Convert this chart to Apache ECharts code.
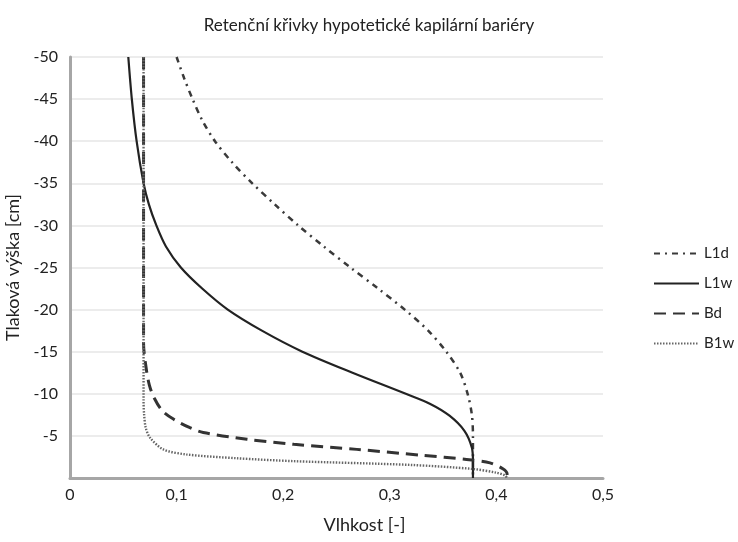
<!DOCTYPE html>
<html>
<head>
<meta charset="utf-8">
<title>Retenční křivky</title>
<script src="https://cdn.jsdelivr.net/npm/echarts@6/dist/echarts.min.js"></script>
<style>
  html, body { margin: 0; padding: 0; background: #fff; }
  #chart { width: 738px; height: 542px; }
</style>
</head>
<body>
<div id="chart"></div>
<script>
  // tlaková výška [cm] a vlhkost [-] pro jednotlivé křivky
  var l1dHead  = [-50, -47.5, -45, -42.5, -40, -37.5, -35, -32.5, -30, -27.5, -25, -22.5, -20, -17.5, -15, -12.5, -10, -7.5, -5, 0];
  var l1dTheta = [0.100, 0.107, 0.115, 0.124, 0.136, 0.152, 0.171, 0.192, 0.214, 0.238, 0.263, 0.289, 0.314, 0.336, 0.353, 0.366, 0.373, 0.377, 0.378, 0.378];

  var l1wHead  = [-50, -45, -40, -35, -32.5, -30, -27.5, -25, -22.5, -20, -17.5, -15, -12.5, -10, -8.8, -7.4, -5.6, -3.6, -2, 0];
  var l1wTheta = [0.0547, 0.058, 0.0625, 0.069, 0.074, 0.081, 0.09, 0.104, 0.124, 0.148, 0.18, 0.218, 0.265, 0.315, 0.338, 0.356, 0.37, 0.377, 0.378, 0.378];

  var bdHead  = [-50, -16, -13, -11, -9.5, -8, -7, -6, -5.4, -4.6, -4.0, -3.4, -2.7, -2.2, -1.8, -1.1, -0.5, 0];
  var bdTheta = [0.069, 0.069, 0.0715, 0.0745, 0.079, 0.0865, 0.097, 0.112, 0.125, 0.166, 0.21, 0.269, 0.33, 0.372, 0.394, 0.406, 0.41, 0.41];

  var b1wHead  = [-50, -20, -9, -7.6, -6, -4.8, -3.4, -2.8, -2.35, -2.0, -1.55, -1.07, -0.63, -0.3, 0];
  var b1wTheta = [0.069, 0.069, 0.069, 0.0695, 0.071, 0.075, 0.0875, 0.109, 0.156, 0.21, 0.32, 0.378, 0.4, 0.408, 0.41];

  var seriesNames = ['L1d', 'L1w', 'Bd', 'B1w'];

  function pairs(theta, head) {
    return theta.map(function (t, i) { return [t, head[i]]; });
  }

  var font = 'Lato, "Open Sans", sans-serif';

  var myChart = echarts.init(document.getElementById('chart'));
  myChart.setOption({
    animation: false,
    title: {
      text: 'Retenční křivky hypotetické kapilární bariéry',
      left: 'center',
      top: 12,
      textStyle: { fontFamily: font, fontSize: 17, fontWeight: 'normal', color: '#222' }
    },
    legend: {
      orient: 'vertical',
      left: 653,
      top: 246,
      padding: 0,
      itemWidth: 45,
      itemHeight: 14,
      itemGap: 15,
      data: seriesNames,
      itemStyle: { opacity: 0 },
      textStyle: { fontFamily: font, fontSize: 15, color: '#222' }
    },
    grid: { left: 70, right: 135, top: 57, bottom: 64, outerBoundsMode: 'none' },
    xAxis: {
      type: 'value',
      min: 0, max: 0.5, interval: 0.1,
      name: 'Vlhkost [-]',
      nameLocation: 'middle',
      nameGap: 38,
      nameTextStyle: { fontFamily: font, fontSize: 18, color: '#222', padding: [0, 0, 0, 56] },
      axisLine: { lineStyle: { color: '#a6a6a6', width: 3 } },
      axisTick: { show: false },
      splitLine: { show: false },
      axisLabel: {
        margin: 9,
        fontFamily: font, fontSize: 16, color: '#222',
        formatter: function (v) { return String(+v.toFixed(1)).replace('.', ','); }
      }
    },
    yAxis: {
      type: 'value',
      min: -50, max: 0, interval: 5,
      inverse: true,
      name: 'Tlaková výška [cm]',
      nameLocation: 'middle',
      nameGap: 46,
      nameTextStyle: { fontFamily: font, fontSize: 18, color: '#222' },
      axisLine: { show: true, lineStyle: { color: '#a6a6a6', width: 3 } },
      axisTick: { show: false },
      splitLine: { lineStyle: { color: '#e6e6e6', width: 1.5 } },
      axisLabel: {
        margin: 12,
        fontFamily: font, fontSize: 16, color: '#222',
        formatter: function (v) { return v === 0 ? '' : String(v); }
      }
    },
    series: [
      {
        name: 'L1d', type: 'line', symbol: 'none', smooth: 0.3,
        lineStyle: { color: '#3a3a3a', width: 2.5, type: [6, 5, 2, 5] },
        itemStyle: { color: '#3a3a3a' },
        data: pairs(l1dTheta, l1dHead)
      },
      {
        name: 'L1w', type: 'line', symbol: 'none', smooth: 0.3,
        lineStyle: { color: '#222', width: 2.2, type: 'solid' },
        itemStyle: { color: '#222' },
        data: pairs(l1wTheta, l1wHead)
      },
      {
        name: 'Bd', type: 'line', symbol: 'none', smooth: 0.3,
        lineStyle: { color: '#333', width: 3, type: [12, 7] },
        itemStyle: { color: '#333' },
        data: pairs(bdTheta, bdHead)
      },
      {
        name: 'B1w', type: 'line', symbol: 'none', smooth: 0.3,
        lineStyle: { color: '#666', width: 2.4, type: [1.5, 1.5] },
        itemStyle: { color: '#666' },
        data: pairs(b1wTheta, b1wHead)
      }
    ]
  });
</script>
</body>
</html>
